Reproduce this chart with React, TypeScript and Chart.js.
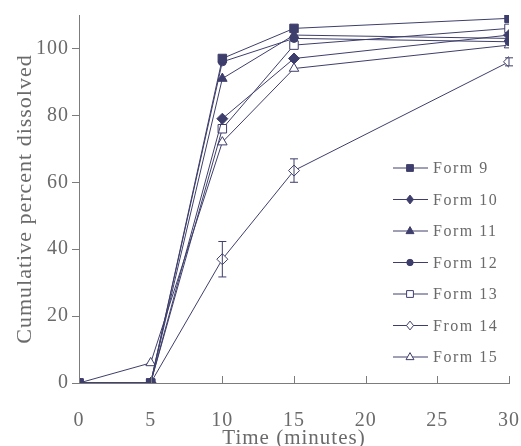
import React, { useEffect, useRef } from 'react';
import { Chart, registerables } from 'chart.js';

Chart.register(...registerables);

const times = [0, 5, 10, 15, 30];
const form9 = [0, 0, 97, 106, 109];
const form10 = [0, 0, 79, 97, 104];
const form11 = [0, 0, 91, 104, 103];
const form12 = [0, 0, 96, 103, 102];
const form13 = [0, 0, 76, 101, 106];
const form14 = [0, 0, 37, 63.5, 96];
const form15 = [0, 6, 72, 94, 101];
const form14Err = [0, 0, 5.3, 3.5, 1.2];
const seriesLabels = ['Form 9', 'Form 10', 'Form 11', 'Form 12', 'Form 13', 'From 14', 'Form 15'];
const xTicks = [0, 5, 10, 15, 20, 25, 30];
const yTicks = [0, 20, 40, 60, 80, 100];

const LINE = '#3e3e6c';
const AXIS = '#7c7c7c';
const TEXT = '#6a6a6a';
const FONT = '"Liberation Serif", "Times New Roman", serif';

const seriesValues = [form9, form10, form11, form12, form13, form14, form15];
const styles = ['rect', 'rectRot', 'triangle', 'circle', 'rect', 'rectRot', 'triangle'];
const filled = [true, true, true, true, false, false, false];
const radii = [6, 5.5, 5.5, 4, 6, 5.5, 5.5];
const errors: (number[] | null)[] = [null, null, null, null, null, form14Err, null];

function drawMarker(ctx: CanvasRenderingContext2D, style: string, x: number, y: number, r: number, fill: boolean) {
  ctx.beginPath();
  if (style === 'rect') {
    const s = r * Math.SQRT1_2;
    ctx.rect(x - s, y - s, 2 * s, 2 * s);
  } else if (style === 'rectRot') {
    ctx.moveTo(x, y - r);
    ctx.lineTo(x + r * 0.8, y);
    ctx.lineTo(x, y + r);
    ctx.lineTo(x - r * 0.8, y);
    ctx.closePath();
  } else if (style === 'triangle') {
    ctx.moveTo(x, y - r);
    ctx.lineTo(x + r * 0.9, y + r * 0.6);
    ctx.lineTo(x - r * 0.9, y + r * 0.6);
    ctx.closePath();
  } else {
    ctx.arc(x, y, r, 0, Math.PI * 2);
  }
  ctx.fillStyle = fill ? LINE : '#ffffff';
  ctx.fill();
  ctx.strokeStyle = LINE;
  ctx.lineWidth = 1;
  ctx.stroke();
}

const spacingPlugin = {
  id: 'spacing',
  beforeDraw(chart: any) {
    chart.ctx.letterSpacing = '1px';
  },
};

const errorBarPlugin = {
  id: 'errorBars',
  afterDatasetsDraw(chart: any) {
    const ctx = chart.ctx;
    const xs = chart.scales.x;
    const ys = chart.scales.y;
    ctx.save();
    ctx.strokeStyle = LINE;
    ctx.lineWidth = 1;
    errors.forEach((err, di) => {
      if (!err) return;
      err.forEach((e, i) => {
        if (!e) return;
        const v = seriesValues[di][i];
        const px = xs.getPixelForValue(times[i]);
        const y1 = ys.getPixelForValue(v + e);
        const y2 = ys.getPixelForValue(v - e);
        ctx.beginPath();
        ctx.moveTo(px, y1);
        ctx.lineTo(px, y2);
        ctx.moveTo(px - 4, y1);
        ctx.lineTo(px + 4, y1);
        ctx.moveTo(px - 4, y2);
        ctx.lineTo(px + 4, y2);
        ctx.stroke();
      });
    });
    ctx.restore();
  },
};

const axisTicksPlugin = {
  id: 'xInsideTicks',
  afterDraw(chart: any) {
    const ctx = chart.ctx;
    const xs = chart.scales.x;
    const bottom = chart.chartArea.bottom;
    ctx.save();
    ctx.strokeStyle = AXIS;
    ctx.lineWidth = 1;
    xTicks.forEach((t) => {
      const px = Math.round(xs.getPixelForValue(t)) + 0.5;
      ctx.beginPath();
      ctx.moveTo(px, bottom);
      ctx.lineTo(px, bottom - 7);
      ctx.stroke();
    });
    ctx.restore();
  },
};

const legendPlugin = {
  id: 'customLegend',
  afterDraw(chart: any) {
    const ctx = chart.ctx;
    ctx.save();
    ctx.letterSpacing = '1.5px';
    const x0 = 393;
    const x1 = 428;
    const mx = 410;
    const ty0 = 168;
    const dy = 31.5;
    seriesLabels.forEach((lab, i) => {
      const y = ty0 + i * dy;
      ctx.strokeStyle = LINE;
      ctx.lineWidth = 1;
      ctx.beginPath();
      ctx.moveTo(x0, y);
      ctx.lineTo(x1, y);
      ctx.stroke();
      drawMarker(ctx, styles[i], mx, y, radii[i] * 0.8, filled[i]);
      ctx.fillStyle = TEXT;
      ctx.font = `16px ${FONT}`;
      ctx.textBaseline = 'middle';
      ctx.textAlign = 'left';
      ctx.fillText(lab, 433, y + 1);
    });
    ctx.restore();
  },
};

export default function App() {
  const ref = useRef<HTMLCanvasElement | null>(null);
  useEffect(() => {
    document.body.style.margin = '0';
    const canvas = ref.current!;
    const datasets = seriesLabels.map((lab, i) => ({
      label: lab,
      data: times.map((t, j) => ({ x: t, y: seriesValues[i][j] })),
      borderColor: LINE,
      borderWidth: 1,
      pointStyle: styles[i] as any,
      pointRadius: radii[i],
      pointBorderWidth: 1,
      pointBackgroundColor: filled[i] ? LINE : '#ffffff',
      pointBorderColor: LINE,
      fill: false,
      tension: 0,
    }));
    const chart = new Chart(canvas, {
      type: 'line',
      data: { datasets },
      options: {
        animation: false,
        responsive: false,
        layout: { padding: { top: 15, right: 12, left: 0, bottom: 0 } },
        plugins: { legend: { display: false }, tooltip: { enabled: false } },
        scales: {
          x: {
            type: 'linear',
            min: 0,
            max: 30,
            ticks: { stepSize: 5, color: TEXT, font: { family: FONT, size: 20 }, padding: 26, maxRotation: 0 },
            grid: { display: true, drawOnChartArea: false, drawTicks: false },
            border: { color: AXIS, width: 1 },
            title: { display: true, text: 'Time (minutes)', color: TEXT, font: { family: FONT, size: 21, lineHeight: 1 }, padding: { top: 0, bottom: -3 } },
            afterFit(scale: any) {
              scale.height = 63;
              scale.paddingLeft = 0;
              scale.paddingRight = 0;
            },
          },
          y: {
            min: 0,
            max: 110,
            ticks: { stepSize: 20, color: TEXT, font: { family: FONT, size: 20 }, padding: 3 },
            afterBuildTicks(scale: any) {
              scale.ticks = yTicks.map((v) => ({ value: v }));
            },
            grid: { display: true, drawOnChartArea: false, tickLength: 7, color: AXIS },
            border: { color: AXIS, width: 1 },
            title: { display: true, text: 'Cumulative percent dissolved', color: TEXT, font: { family: FONT, size: 22, lineHeight: 1 }, padding: { top: 14, bottom: 0 } },
            afterFit(scale: any) {
              scale.width = 79;
              scale.paddingTop = 0;
              scale.paddingBottom = 0;
            },
          },
        },
      },
      plugins: [spacingPlugin, errorBarPlugin, axisTicksPlugin, legendPlugin],
    });
    return () => chart.destroy();
  }, []);
  return <canvas ref={ref} width={521} height={446} style={{ display: 'block' }} />;
}
